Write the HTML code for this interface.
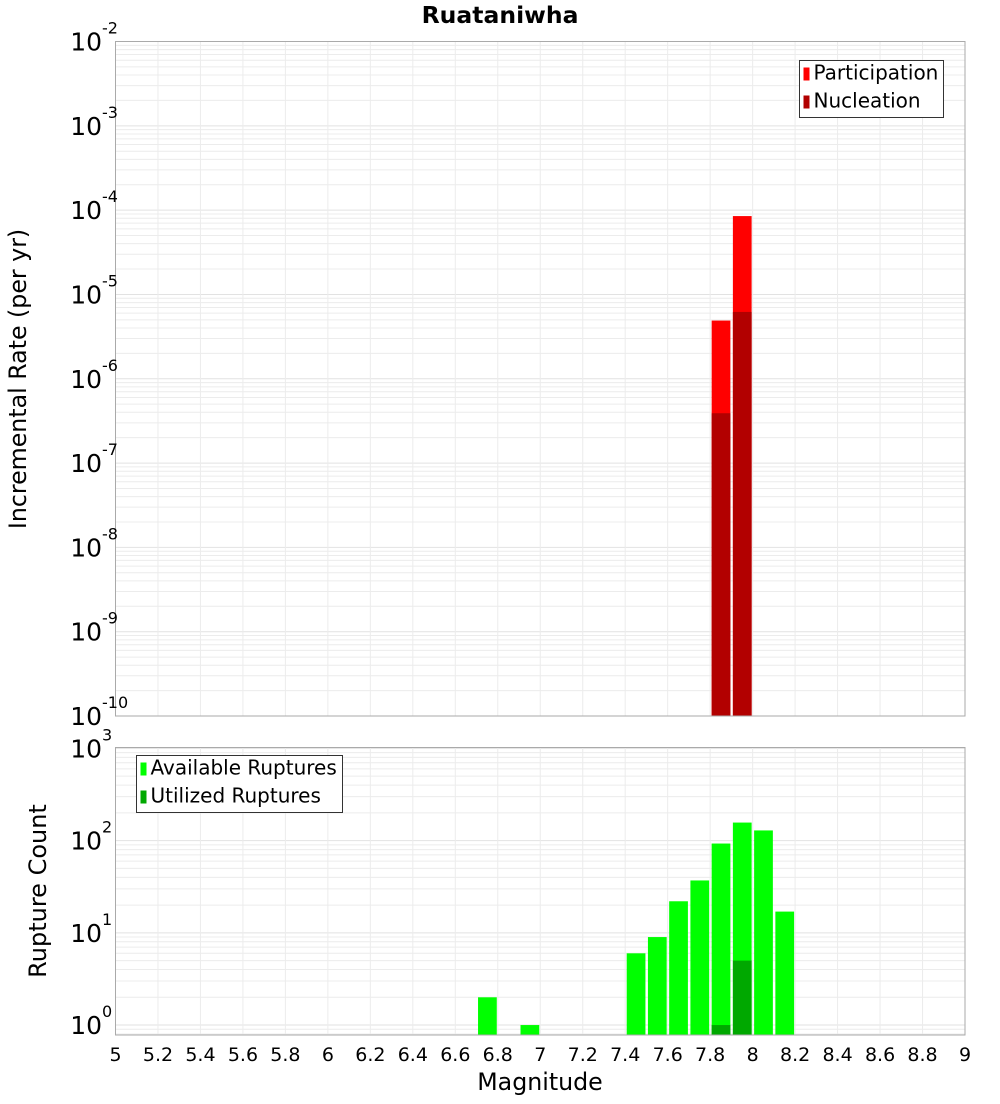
<!DOCTYPE html>
<html><head><meta charset="utf-8"><style>
body{margin:0;background:#fff;font-family:"DejaVu Sans","Liberation Sans",sans-serif}
svg text{font-family:"DejaVu Sans","Liberation Sans",sans-serif}
</style></head><body>
<svg id="c" width="1000" height="1100" xmlns="http://www.w3.org/2000/svg">
<rect width="1000" height="1100" fill="#fff"/>
<text x="500" y="23" text-anchor="middle" font-size="23.5" font-weight="bold">Ruataniwha</text>
<text transform="translate(26,379) rotate(-90)" text-anchor="middle" font-size="23.7">Incremental Rate (per yr)</text>
<text transform="translate(46,891) rotate(-90)" text-anchor="middle" font-size="24">Rupture Count</text>
<text x="540" y="1090" text-anchor="middle" font-size="23.7">Magnitude</text>
<g id="top"></g><g id="bot"></g>
</svg>
<script>
const mags = [6.7,6.8,6.9,7.0,7.1,7.2,7.3,7.4,7.5,7.6,7.7,7.8,7.9,8.0,8.1];
const participation = [0,0,0,0,0,0,0,0,0,0,0,4.9e-6,8.5e-5,0,0];
const nucleation = [0,0,0,0,0,0,0,0,0,0,0,3.9e-7,6.2e-6,0,0];
const available = [2,0,1,0,0,0,0,6,9,22,37,93,157,129,17];
const utilized = [0,0,0,0,0,0,0,0,0,0,0,1,5,0,0];
const xTicks = [5,5.2,5.4,5.6,5.8,6,6.2,6.4,6.6,6.8,7,7.2,7.4,7.6,7.8,8,8.2,8.4,8.6,8.8,9];
const topExps = [-2,-3,-4,-5,-6,-7,-8,-9,-10];
const botExps = [0,1,2,3];

const NS="http://www.w3.org/2000/svg";
const svg=document.getElementById('c');
function mk(t,a,p){const e=document.createElementNS(NS,t);for(const k in a)e.setAttribute(k,a[k]);(p||svg).appendChild(e);return e;}
const X0=115.5,X1=965;
const xs=m=>X0+(m-5)/(9-5)*(X1-X0);
function logScale(lo,hi,y0,y1){return v=>y1-(Math.log10(v)-lo)/(hi-lo)*(y1-y0);}
const T={y0:41.5,y1:716,lo:-10,hi:-2};
const yT=logScale(T.lo,T.hi,T.y0,T.y1);
const B={y0:747.5,y1:1035,lo:Math.log10(0.78),hi:3.01};
const yB=logScale(B.lo,B.hi,B.y0,B.y1);

function panel(g,P,ys,lo,hi){
  mk('rect',{x:X0,y:P.y0,width:X1-X0,height:P.y1-P.y0,fill:'#fff'},g);
  for(let d=Math.floor(lo);d<=Math.ceil(hi);d++){for(let k=1;k<10;k++){const v=k*Math.pow(10,d);const y=ys(v);if(y<P.y0||y>P.y1)continue;
    const l=mk('line',{x1:X0,x2:X1,y1:y,y2:y,stroke:k==1?'#e2e2e2':'#ececec','stroke-width':1},g);
    
    }}
  xTicks.forEach(t=>{const x=xs(t);const l=mk('line',{x1:x,x2:x,y1:P.y0,y2:P.y1,stroke:'#ececec'},g);
    
    });
}
function ylabels(g,exps,ys){
  exps.forEach(e=>{const y=ys(Math.pow(10,e));
    const t=mk('text',{x:102,y:y+9,'text-anchor':'end','font-size':25},g);t.textContent='10';
    
    
    const s=mk('text',{x:102,y:y-8,'font-size':16},g);s.textContent=String(e);
    
    });
}
const gT=document.getElementById('top'),gB=document.getElementById('bot');
panel(gT,T,yT,T.lo,T.hi);
panel(gB,B,yB,B.lo,B.hi);
function bars(g,vals,ys,P,color,name){
  vals.forEach((v,i)=>{if(!v)return;const x=xs(mags[i])+1.5,w=xs(mags[i]+0.1)-xs(mags[i])-2.5;const y=Math.max(ys(v),P.y0);
    const r=mk('rect',{x:x,y:y,width:w,height:P.y1-y,fill:color},g);
    
    });
}
bars(gT,participation,yT,T,'#ff0000','participation-bar');
bars(gT,nucleation,yT,T,'#b20000','nucleation-bar');
bars(gB,available,yB,B,'#00ff00','available-bar');
bars(gB,utilized,yB,B,'#00a800','utilized-bar');
mk('rect',{x:X0,y:T.y0,width:X1-X0,height:T.y1-T.y0,fill:'none',stroke:'#aaa'},gT);
mk('rect',{x:X0,y:B.y0,width:X1-X0,height:B.y1-B.y0,fill:'none',stroke:'#aaa'},gB);
ylabels(gT,topExps,yT);ylabels(gB,botExps,yB);
xTicks.forEach(t=>{const tx=mk('text',{x:xs(t),y:1061,'text-anchor':'middle','font-size':19},gB);tx.textContent=String(t);
  
  });
function legend(g,x,y,w,items,name){
  const lg=mk('g',{},g);
  
  
  mk('rect',{x:x,y:y,width:w,height:57,fill:'#fff',stroke:'#333'},lg);
  items.forEach((it,i)=>{mk('rect',{x:x+4,y:y+7+i*28,width:6,height:13,fill:it[1]},lg);
    const t=mk('text',{x:x+14,y:y+19+i*28,'font-size':20},lg);t.textContent=it[0];});
}
legend(gT,799.5,60.5,144,[['Participation','#ff0000'],['Nucleation','#b20000']],'top-legend');
legend(gB,136.5,755.5,206,[['Available Ruptures','#00ff00'],['Utilized Ruptures','#00a800']],'bottom-legend');
</script>
</body></html>
